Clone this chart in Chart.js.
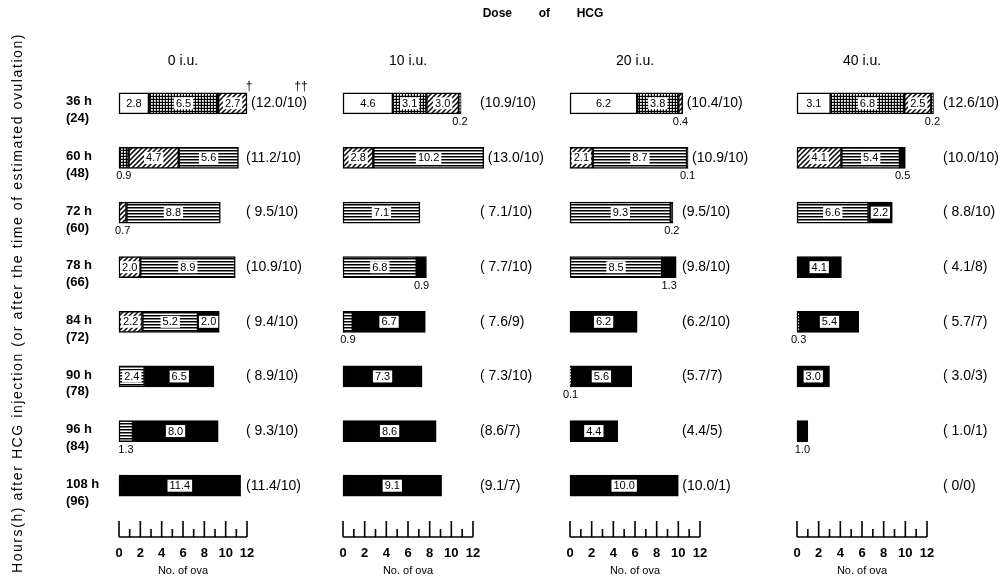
<!DOCTYPE html>
<html lang="en">
<head>
<meta charset="UTF-8">
<title>Dose of HCG - No. of ova</title>
<script src="https://cdn.jsdelivr.net/npm/chart.js"></script>
<style>
  body { margin: 0; background: #fff; }
  #wrap { position: relative; width: 1004px; height: 578px; }
  #wrap canvas { position: absolute; left: 0; top: 0; }
</style>
</head>
<body>
<div id="wrap"></div>
<script>
// rows: hours after HCG injection, and (hours after estimated ovulation)
const hours = ['36 h', '60 h', '72 h', '78 h', '84 h', '90 h', '96 h', '108 h'];
const afterOvulation = ['(24)', '(48)', '(60)', '(66)', '(72)', '(78)', '(84)', '(96)'];
const doses = ['0 i.u.', '10 i.u.', '20 i.u.', '40 i.u.'];
const stages = ['white', 'dotted', 'hatched', 'striped', 'black'];
const xTicks = [0, 2, 4, 6, 8, 10, 12];

// 0 i.u.
const iu0White   = [2.8, null, null, null, null, null, null, null];
const iu0Dotted  = [6.5, 0.9, null, null, null, null, null, null];
const iu0Hatched = [2.7, 4.7, 0.7, 2.0, 2.2, null, null, null];
const iu0Striped = [null, 5.6, 8.8, 8.9, 5.2, 2.4, 1.3, null];
const iu0Black   = [null, null, null, null, 2.0, 6.5, 8.0, 11.4];
const iu0Notes   = ['(12.0/10)', '(11.2/10)', '( 9.5/10)', '(10.9/10)', '( 9.4/10)', '( 8.9/10)', '( 9.3/10)', '(11.4/10)'];

// 10 i.u.
const iu10White   = [4.6, null, null, null, null, null, null, null];
const iu10Dotted  = [3.1, null, null, null, null, null, null, null];
const iu10Hatched = [3.0, 2.8, null, null, null, null, null, null];
const iu10Striped = [0.2, 10.2, 7.1, 6.8, 0.9, null, null, null];
const iu10Black   = [null, null, null, 0.9, 6.7, 7.3, 8.6, 9.1];
const iu10Notes   = ['(10.9/10)', '(13.0/10)', '( 7.1/10)', '( 7.7/10)', '( 7.6/9)', '( 7.3/10)', '(8.6/7)', '(9.1/7)'];

// 20 i.u.
const iu20White   = [6.2, null, null, null, null, null, null, null];
const iu20Dotted  = [3.8, null, null, null, null, null, null, null];
const iu20Hatched = [0.4, 2.1, null, null, null, null, null, null];
const iu20Striped = [null, 8.7, 9.3, 8.5, null, 0.1, null, null];
const iu20Black   = [null, 0.1, 0.2, 1.3, 6.2, 5.6, 4.4, 10.0];
const iu20Notes   = ['(10.4/10)', '(10.9/10)', '(9.5/10)', '(9.8/10)', '(6.2/10)', '(5.7/7)', '(4.4/5)', '(10.0/1)'];

// 40 i.u.
const iu40White   = [3.1, null, null, null, null, null, null, null];
const iu40Dotted  = [6.8, null, null, null, null, null, null, null];
const iu40Hatched = [2.5, 4.1, null, null, null, null, null, null];
const iu40Striped = [0.2, 5.4, 6.6, null, 0.3, null, null, null];
const iu40Black   = [null, 0.5, 2.2, 4.1, 5.4, 3.0, 1.0, null];
const iu40Notes   = ['(12.6/10)', '(10.0/10)', '( 8.8/10)', '( 4.1/8)', '( 5.7/7)', '( 3.0/3)', '( 1.0/1)', '( 0/0)'];

const panelSeries = [
  [iu0White, iu0Dotted, iu0Hatched, iu0Striped, iu0Black],
  [iu10White, iu10Dotted, iu10Hatched, iu10Striped, iu10Black],
  [iu20White, iu20Dotted, iu20Hatched, iu20Striped, iu20Black],
  [iu40White, iu40Dotted, iu40Hatched, iu40Striped, iu40Black]
];
const panelNotes = [iu0Notes, iu10Notes, iu20Notes, iu40Notes];

// where each panel's axis sits on the page (px)
const panelBox = [
  { left: 119, right: 247, noteX: 246 },
  { left: 343, right: 473, noteX: 480 },
  { left: 570, right: 700, noteX: 682 },
  { left: 797, right: 927, noteX: 943 }
];

const W = 1004, H = 578;
const SANS = '"Liberation Sans", Arial, sans-serif';

// fill patterns for the stages
function makePattern(kind) {
  const c = document.createElement('canvas');
  const g = c.getContext('2d');
  if (kind === 'white') return '#fff';
  if (kind === 'black') return '#000';
  if (kind === 'dotted') {
    c.width = 3; c.height = 3;
    g.fillStyle = '#000'; g.fillRect(0, 0, 3, 3);
    g.fillStyle = '#fff'; g.fillRect(1, 1, 1.8, 1.8);
  } else if (kind === 'hatched') {
    c.width = 5; c.height = 5;
    g.fillStyle = '#fff'; g.fillRect(0, 0, 5, 5);
    g.strokeStyle = '#000'; g.lineWidth = 1.5;
    g.beginPath();
    g.moveTo(0, 5); g.lineTo(5, 0);
    g.moveTo(-1, 1); g.lineTo(1, -1);
    g.moveTo(4, 6); g.lineTo(6, 4);
    g.stroke();
  } else if (kind === 'striped') {
    c.width = 4; c.height = 3;
    g.fillStyle = '#fff'; g.fillRect(0, 0, 4, 3);
    g.fillStyle = '#000'; g.fillRect(0, 0, 4, 1.5);
  }
  return g.createPattern(c, 'repeat');
}
const fills = stages.map(makePattern);

// numbers on / under each segment
const segmentLabels = {
  id: 'segmentLabels',
  afterDatasetsDraw(chart) {
    const ctx = chart.ctx;
    ctx.save();
    ctx.font = '11px ' + SANS;
    ctx.textAlign = 'center';
    ctx.textBaseline = 'middle';
    chart.data.datasets.forEach((ds, di) => {
      chart.getDatasetMeta(di).data.forEach((bar, i) => {
        const v = ds.data[i];
        if (v == null) return;
        const p = bar.getProps(['x', 'y', 'base', 'height'], true);
        const cx = (p.x + p.base) / 2;
        const txt = v.toFixed(1);
        if (v < 1.5) {
          ctx.fillStyle = '#000';
          ctx.fillText(txt, cx, p.y + p.height / 2 + 8);
        } else {
          const w = ctx.measureText(txt).width + 4;
          if (di !== 0) {
            ctx.fillStyle = '#fff';
            ctx.fillRect(cx - w / 2, p.y - 6, w, 12);
          }
          ctx.fillStyle = '#000';
          ctx.fillText(txt, cx, p.y + 0.5);
        }
      });
    });
    ctx.restore();
  }
};

// panel heading, right-hand notes and the ruler-like axis
const panelDecor = {
  id: 'panelDecor',
  afterDraw(chart, args, opts) {
    const ctx = chart.ctx;
    const xs = chart.scales.x, ys = chart.scales.y;
    const area = chart.chartArea;
    ctx.save();
    ctx.fillStyle = '#000';
    ctx.strokeStyle = '#000';

    // heading
    ctx.font = '14px ' + SANS;
    ctx.textAlign = 'center';
    ctx.textBaseline = 'middle';
    ctx.fillText(opts.title, (xs.getPixelForValue(0) + xs.getPixelForValue(12)) / 2, 61);

    // notes (mean / n)
    ctx.textAlign = 'left';
    opts.notes.forEach((t, i) => {
      let total = 0;
      chart.data.datasets.forEach(ds => { total += ds.data[i] || 0; });
      const x = Math.max(opts.noteX, xs.getPixelForValue(total) + 4);
      ctx.fillText(t, x, ys.getPixelForValue(i));
    });

    // ruler
    const yb = area.bottom + 24;
    ctx.lineWidth = 1.6;
    ctx.beginPath();
    ctx.moveTo(xs.getPixelForValue(0), yb);
    ctx.lineTo(xs.getPixelForValue(12), yb);
    for (let v = 0; v <= 12; v++) {
      const px = xs.getPixelForValue(v);
      ctx.moveTo(px, yb);
      ctx.lineTo(px, yb - (v % 2 === 0 ? 16 : 8));
    }
    ctx.stroke();

    if (opts.main) {
      // overall heading
      ctx.font = 'bold 12px ' + SANS;
      ctx.textAlign = 'center';
      ctx.fillText('Dose        of        HCG', 543, 14);

      // footnote marks
      ctx.font = '12px ' + SANS;
      ctx.fillText('\u2020', 249, 87);
      ctx.fillText('\u2020\u2020', 301, 87);

      // vertical title
      const txt = 'Hours(h) after HCG injection (or after the time of estimated ovulation)';
      ctx.font = '14px ' + SANS;
      const target = 540;
      const m = ctx.measureText(txt).width;
      if ('letterSpacing' in ctx) ctx.letterSpacing = Math.max(0, (target - m) / txt.length).toFixed(2) + 'px';
      ctx.translate(18, 303);
      ctx.rotate(-Math.PI / 2);
      ctx.fillText(txt, 0, 0);
    }
    ctx.restore();
  }
};

const wrap = document.getElementById('wrap');

panelSeries.forEach((series, pi) => {
  const box = panelBox[pi];
  const canvas = document.createElement('canvas');
  canvas.width = W;
  canvas.height = H;
  wrap.appendChild(canvas);

  const first = pi === 0;
  const yWidth = first ? 53 : 0;

  new Chart(canvas.getContext('2d'), {
    type: 'bar',
    data: {
      labels: hours.map((h, i) => [h, afterOvulation[i]]),
      datasets: series.map((data, si) => ({
        label: stages[si],
        data: data,
        backgroundColor: fills[si],
        borderColor: '#000',
        borderWidth: 1.5,
        borderSkipped: false,
        barThickness: 21,
        clip: false
      }))
    },
    options: {
      indexAxis: 'y',
      responsive: false,
      animation: false,
      events: [],
      layout: {
        padding: {
          left: box.left - yWidth,
          right: W - box.right,
          top: 76,
          bottom: 0
        }
      },
      scales: {
        x: {
          stacked: true,
          min: xTicks[0],
          max: xTicks[xTicks.length - 1],
          afterFit: s => { s.height = 65; },
          grid: { display: false, drawTicks: false },
          border: { display: false },
          ticks: {
            stepSize: 2,
            padding: 33,
            autoSkip: false,
            maxRotation: 0,
            minRotation: 0,
            color: '#000',
            font: { family: SANS, size: 13, weight: 'bold' }
          },
          title: {
            display: true,
            text: 'No. of ova',
            color: '#000',
            padding: 0,
            font: { family: SANS, size: 11 }
          }
        },
        y: {
          stacked: true,
          display: first,
          afterFit: s => { s.width = yWidth; },
          grid: { display: false },
          border: { display: false },
          ticks: {
            crossAlign: 'far',
            labelOffset: 7,
            color: '#000',
            font: { family: SANS, size: 13, weight: 'bold', lineHeight: 1.3 }
          }
        }
      },
      plugins: {
        legend: { display: false },
        tooltip: { enabled: false },
        panelDecor: { title: doses[pi], notes: panelNotes[pi], noteX: box.noteX, main: first }
      }
    },
    plugins: [segmentLabels, panelDecor]
  });
});
</script>
</body>
</html>
